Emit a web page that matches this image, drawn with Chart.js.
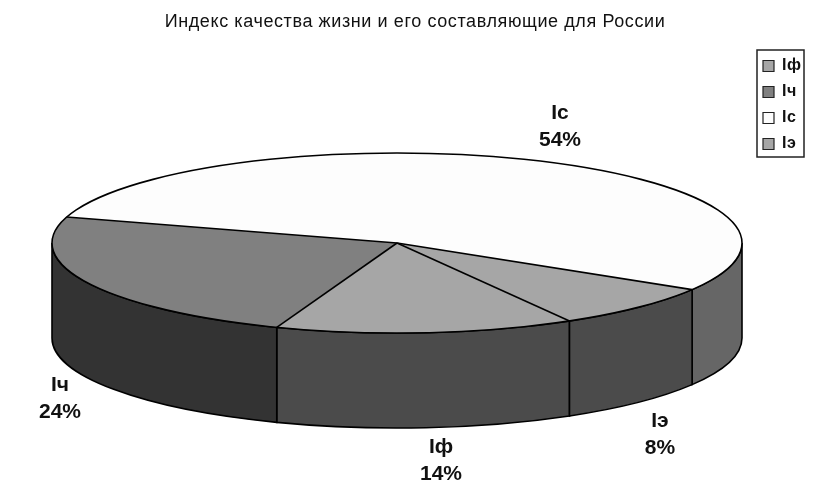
<!DOCTYPE html>
<html lang="ru">
<head>
<meta charset="utf-8">
<style>html,body{margin:0;padding:0;background:#fff}canvas{display:block}</style>
<script src="https://cdn.jsdelivr.net/npm/chart.js@4"></script>
</head>
<body>
<canvas id="c" width="835" height="493"></canvas>
<script>
const categories = ['Iф', 'Iч', 'Iс', 'Iэ'];
const shares = [14, 24, 54, 8];
const topColors = ['#a6a6a6', '#808080', '#fdfdfd', '#a6a6a6'];
const sideColors = ['#4b4b4b', '#333333', '#666666', '#4b4b4b'];
const labelCentres = [[441, 447], [60, 385], [560, 113], [660, 421]];
const chartTitle = 'Индекс качества жизни и его составляющие для России';

const FONT = '"Liberation Sans", Arial, sans-serif';
const SQUASH = 90 / 345;
const DEPTH = 95;

const pie3d = {
  id: 'pie3d',
  afterLayout(chart) {
    chart.chartArea = {left: 0, right: 794, top: 0, bottom: 486, width: 794, height: 486};
    const lg = chart.legend;
    lg.left = 753; lg.right = 808; lg.top = 48; lg.bottom = 400;
  },
  beforeDraw(chart) {
    chart.ctx.letterSpacing = '0.6px';
  },
  beforeDatasetsDraw(chart) {
    const ctx = chart.ctx;
    ctx.letterSpacing = '0px';
    const arcs = chart.getDatasetMeta(0).data;
    const {x, y, outerRadius: r} = arcs[0];
    const ry = r * SQUASH;
    ctx.save();
    ctx.strokeStyle = '#000';
    ctx.lineWidth = 1.6;
    arcs.forEach((a, i) => {
      for (const shift of [-2, 0, 2]) {
        const s = a.startAngle + shift * Math.PI;
        const e = a.endAngle + shift * Math.PI;
        const lo = Math.max(s, 0), hi = Math.min(e, Math.PI);
        if (hi <= lo) continue;
        ctx.beginPath();
        ctx.ellipse(x, y, r, ry, 0, lo, hi);
        ctx.ellipse(x, y + DEPTH, r, ry, 0, hi, lo, true);
        ctx.closePath();
        ctx.fillStyle = sideColors[i];
        ctx.fill();
        ctx.stroke();
      }
    });
    ctx.restore();
    ctx.save();
    ctx.translate(x, y);
    ctx.scale(1, SQUASH);
    ctx.translate(-x, -y);
  },
  afterDatasetsDraw(chart) {
    const ctx = chart.ctx;
    ctx.restore();
    const arcs = chart.getDatasetMeta(0).data;
    const {x, y, outerRadius: r} = arcs[0];
    const ry = r * SQUASH;
    ctx.save();
    ctx.strokeStyle = '#000';
    ctx.lineWidth = 1.6;
    ctx.beginPath();
    ctx.ellipse(x, y, r, ry, 0, 0, Math.PI * 2);
    ctx.stroke();
    arcs.forEach(a => {
      ctx.beginPath();
      ctx.moveTo(x, y);
      ctx.lineTo(x + r * Math.cos(a.startAngle), y + ry * Math.sin(a.startAngle));
      ctx.stroke();
    });
    ctx.fillStyle = '#111';
    ctx.textAlign = 'center';
    ctx.textBaseline = 'middle';
    ctx.font = 'bold 21px ' + FONT;
    categories.forEach((name, i) => {
      const [cx, cy] = labelCentres[i];
      ctx.fillText(name, cx, cy);
      ctx.fillText(shares[i] + '%', cx, cy + 27);
    });
    ctx.strokeStyle = '#222';
    ctx.lineWidth = 1.5;
    ctx.strokeRect(757, 50, 47, 107);
    ctx.restore();
  }
};

new Chart(document.getElementById('c'), {
  type: 'pie',
  data: {
    labels: categories,
    datasets: [{
      data: shares,
      backgroundColor: topColors,
      borderWidth: 0,
      clip: false
    }]
  },
  options: {
    responsive: false,
    animation: false,
    radius: 345,
    rotation: 150,
    layout: {padding: {right: 5}},
    plugins: {
      tooltip: {enabled: false},
      title: {
        display: true,
        text: chartTitle,
        color: '#111',
        font: {family: FONT, size: 18, weight: 'normal'},
        padding: {top: 11, bottom: 4}
      },
      legend: {
        display: true,
        position: 'right',
        align: 'start',
        labels: {
          boxWidth: 11,
          boxHeight: 11,
          padding: 10,
          color: '#111',
          font: {family: FONT, size: 16, weight: 'bold'},
          generateLabels(chart) {
            return Chart.overrides.pie.plugins.legend.labels.generateLabels(chart)
              .map(item => ({...item, lineWidth: 1.2, strokeStyle: '#222'}));
          }
        }
      }
    }
  },
  plugins: [pie3d]
});
</script>
</body>
</html>
